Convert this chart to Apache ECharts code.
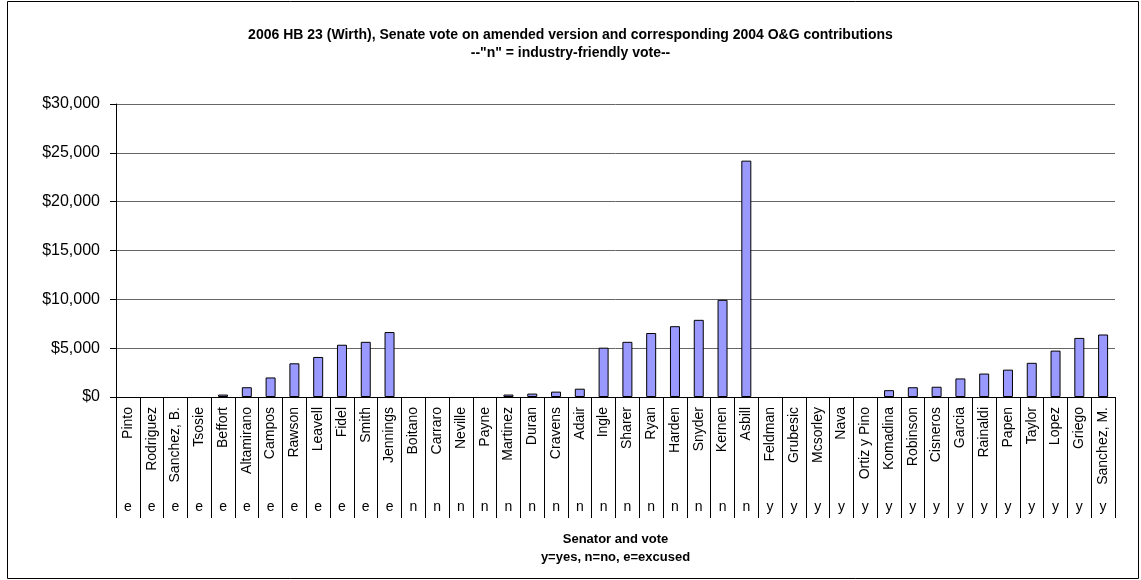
<!DOCTYPE html>
<html>
<head>
<meta charset="utf-8">
<script src="https://cdn.jsdelivr.net/npm/echarts@6/dist/echarts.min.js"></script>
<style>
  html, body { margin: 0; padding: 0; background: #fff; }
  #chart { width: 1141px; height: 580px; }
</style>
</head>
<body>
<div id="chart"></div>
<script>
// Senators in roll-call order, grouped by vote
var senators = ['Pinto', 'Rodriguez', 'Sanchez, B.', 'Tsosie', 'Beffort', 'Altamirano', 'Campos',
  'Rawson', 'Leavell', 'Fidel', 'Smith', 'Jennings', 'Boitano', 'Carraro', 'Neville', 'Payne',
  'Martinez', 'Duran', 'Cravens', 'Adair', 'Ingle', 'Sharer', 'Ryan', 'Harden', 'Snyder', 'Kernen',
  'Asbill', 'Feldman', 'Grubesic', 'Mcsorley', 'Nava', 'Ortiz y Pino', 'Komadina', 'Robinson',
  'Cisneros', 'Garcia', 'Rainaldi', 'Papen', 'Taylor', 'Lopez', 'Griego', 'Sanchez, M.'];

// Vote on the amended bill: y = yes, n = no, e = excused
var votes = ['e', 'e', 'e', 'e', 'e', 'e', 'e', 'e', 'e', 'e', 'e', 'e',
  'n', 'n', 'n', 'n', 'n', 'n', 'n', 'n', 'n', 'n', 'n', 'n', 'n', 'n', 'n',
  'y', 'y', 'y', 'y', 'y', 'y', 'y', 'y', 'y', 'y', 'y', 'y', 'y', 'y', 'y'];

// 2004 oil & gas contributions per senator (US$)
var contributions = [0, 0, 0, 0, 250, 1000, 2000, 3450, 4100, 5350, 5650, 6650,
  0, 0, 0, 0, 250, 350, 550, 850, 5050, 5650, 6550, 7250, 7900, 9950, 24200,
  0, 0, 0, 0, 0, 700, 1000, 1050, 1900, 2400, 2800, 3500, 4750, 6050, 6400];

// y-axis tick values
var yTicks = { min: 0, max: 30000, step: 5000 };

var FONT = '"Liberation Sans", Arial, sans-serif';

function dollars(v) {
  return '$' + String(v).replace(/\B(?=(\d{3})+(?!\d))/g, ',');
}

// a zero contribution draws no bar at all
var barData = contributions.map(function (v) { return v === 0 ? '-' : v; });

var chart = echarts.init(document.getElementById('chart'), null, { renderer: 'canvas' });

chart.setOption({
  backgroundColor: '#ffffff',
  animation: false,
  textStyle: { fontFamily: FONT, color: '#000' },
  title: {
    text: '2006 HB 23 (Wirth), Senate vote on amended version and corresponding 2004 O&G contributions\n--"n" = industry-friendly vote--',
    left: 'center',
    top: 21,
    textStyle: { fontFamily: FONT, fontSize: 14, fontWeight: 'bold', color: '#000', lineHeight: 18 }
  },
  graphic: [{
    type: 'rect',
    shape: { x: 7.5, y: 1.5, width: 1131, height: 577 },
    style: { fill: 'none', stroke: '#000', lineWidth: 1 },
    silent: true
  }],
  grid: { left: 116, right: 26, top: 104, bottom: 183, containLabel: false },
  xAxis: [{
    type: 'category',
    data: senators,
    position: 'bottom',
    axisLine: { show: true, lineStyle: { color: '#000', width: 1 } },
    axisTick: { show: true, interval: 0, length: 121, lineStyle: { color: '#000', width: 1 } },
    axisLabel: { interval: 0, rotate: 90, margin: 10, fontFamily: FONT, fontSize: 14, color: '#000' },
    name: 'Senator and vote\ny=yes, n=no, e=excused',
    nameLocation: 'middle',
    nameGap: 133,
    nameTextStyle: { fontFamily: FONT, fontSize: 13, fontWeight: 'bold', color: '#000', lineHeight: 18, verticalAlign: 'top' }
  }, {
    type: 'category',
    data: votes,
    position: 'bottom',
    axisLine: { show: false },
    axisTick: { show: false },
    axisLabel: { interval: 0, margin: 103, fontFamily: FONT, fontSize: 14, color: '#000' }
  }],
  yAxis: {
    type: 'value',
    min: yTicks.min,
    max: yTicks.max,
    interval: yTicks.step,
    axisLine: { show: true, lineStyle: { color: '#000', width: 1 } },
    axisTick: { show: true, length: 6, lineStyle: { color: '#000' } },
    axisLabel: { margin: 16, fontFamily: FONT, fontSize: 16, color: '#000', formatter: dollars },
    splitLine: { show: true, lineStyle: { color: '#666', width: 1 } }
  },
  series: [{
    type: 'bar',
    xAxisIndex: 0,
    data: barData,
    barWidth: 10,
    itemStyle: { color: '#9999FF', borderColor: '#000', borderWidth: 1 }
  }]
});
</script>
</body>
</html>
